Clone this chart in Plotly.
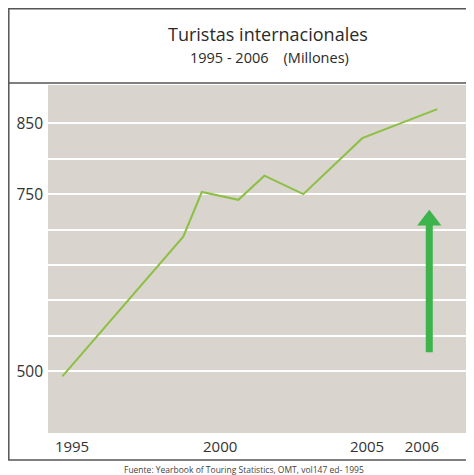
import plotly.graph_objects as go

# Data
years = [1995.0, 1999.10, 1999.73, 2000.97, 2001.85, 2003.17, 2005.17, 2007.71]
tourists = [493, 690, 753, 742, 776, 750, 829, 870]

grid_vals = [500, 550, 600, 650, 700, 750, 800, 850]
grid_text = ["500", "", "", "", "", "750", "", "850"]

x_tick_vals = [1995.33, 2000.35, 2005.33, 2007.19]
x_tick_text = ["1995", "2000", "2005", "2006"]

arrow_x = [2007.44, 2007.44]
arrow_y = [527, 716]
arrow_head_y = [713]

# page body has an 8px margin: build figure to fit inside the window
OFF = 8
W, H = 474 - OFF, 475 - OFF
L, R, T, B = 40, 2, 77, 42
pw, ph = W - L - R, H - T - B

def px(s):
    return (s - OFF - L) / pw

def py(s):
    return (H - B - (s - OFF)) / ph

fig = go.Figure()
fig.add_trace(go.Scatter(x=years, y=tourists, mode="lines",
                         line=dict(color="#8cc043", width=2), hoverinfo="skip"))
fig.add_trace(go.Scatter(x=arrow_x, y=arrow_y, mode="lines",
                         line=dict(color="#3db44b", width=7), hoverinfo="skip"))
fig.add_trace(go.Scatter(x=arrow_x[:1], y=arrow_head_y, mode="markers",
                         marker=dict(symbol="triangle-up", size=21, color="#3db44b",
                                     line=dict(width=0)), hoverinfo="skip"))

font = "Open Sans, Noto Sans, sans-serif"
fig.update_layout(
    width=W, height=H,
    margin=dict(l=L, r=R, t=T, b=B),
    paper_bgcolor="white",
    plot_bgcolor="#d9d4cd",
    showlegend=False,
    font=dict(family=font, color="#333333"),
    xaxis=dict(range=[1994.515, 2008.888], showgrid=False, zeroline=False,
               tickmode="array", tickvals=x_tick_vals, ticktext=x_tick_text,
               tickfont=dict(size=15, color="#333333"), ticks="", showline=False,
               ticklabelstandoff=3, fixedrange=True),
    yaxis=dict(range=[413, 904], showgrid=True, gridcolor="white", gridwidth=2,
               zeroline=False, tickmode="array", tickvals=grid_vals, ticktext=grid_text,
               tickfont=dict(size=15.5, color="#333333"), ticks="", showline=False,
               ticklabelstandoff=4, fixedrange=True),
    shapes=[
        dict(type="rect", xref="paper", yref="paper",
             x0=px(8.8), x1=px(473), y0=py(460), y1=py(8.8),
             line=dict(color="#555555", width=1.5), fillcolor="rgba(0,0,0,0)", layer="above"),
        dict(type="line", xref="paper", yref="paper",
             x0=px(8.8), x1=px(473), y0=py(83), y1=py(83),
             line=dict(color="#555555", width=1.5), layer="above"),
    ],
    annotations=[
        dict(text="Turistas internacionales", xref="paper", yref="paper",
             x=px(268), y=py(34), showarrow=False, xanchor="center", yanchor="middle",
             font=dict(size=18, color="#2a2a2a")),
        dict(text="1995 - 2006\u00a0\u00a0\u00a0\u00a0(Millones)", xref="paper", yref="paper",
             x=px(269), y=py(58), showarrow=False, xanchor="center", yanchor="middle",
             font=dict(size=14.5, color="#2a2a2a")),
        dict(text="Fuente: Yearbook of Touring Statistics, OMT, vol147 ed- 1995",
             xref="paper", yref="paper",
             x=px(244), y=py(469.5), showarrow=False, xanchor="center", yanchor="middle",
             font=dict(size=8.5, color="#444444")),
    ],
)

fig.write_html("out.html")
